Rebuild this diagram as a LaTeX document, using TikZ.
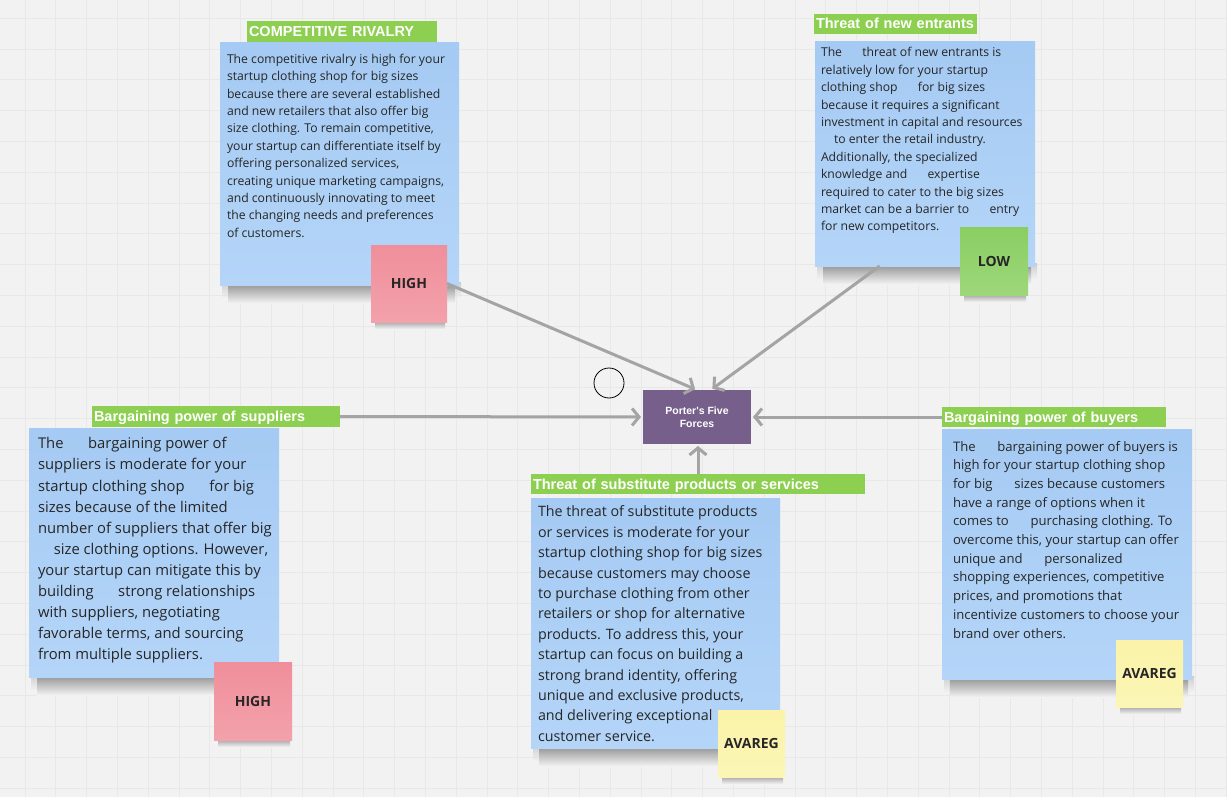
\documentclass[tikz,border=0pt]{standalone}
\usepackage{fontspec}
\setmainfont{Open Sans}
\newfontfamily\headfont{Liberation Sans}
\usetikzlibrary{arrows.meta}

\definecolor{boardbg}{HTML}{F2F2F2}
\definecolor{gridcol}{HTML}{E8E8E8}
\definecolor{notetop}{HTML}{A5CAF3}
\definecolor{notebot}{HTML}{B4D5F8}
\definecolor{headgreen}{HTML}{8DCF50}
\definecolor{pinktop}{HTML}{EF8F9B}
\definecolor{pinkbot}{HTML}{F3A1AB}
\definecolor{limetop}{HTML}{8ACE62}
\definecolor{limebot}{HTML}{9DD77A}
\definecolor{creamtop}{HTML}{FAF3A8}
\definecolor{creambot}{HTML}{FBF6B6}
\definecolor{porterpurple}{HTML}{765F8B}
\definecolor{linkgray}{HTML}{A4A4A4}
\definecolor{inkcol}{HTML}{262626}

\newcommand\wgap{\hspace*{1.4em}}
\newcommand\windent{\hspace*{1.07em}}

\pgfdeclarelayer{board}
\pgfdeclarelayer{shade}
\pgfsetlayers{board,shade,main}

\tikzset{
  note/.style={anchor=north west, inner sep=0pt, outer sep=0pt,
    top color=notetop, bottom color=notebot},
  notetext/.style={anchor=north west, inner sep=0pt, outer sep=0pt,
    align=left, text=inkcol},
  headbar/.style={anchor=north west, fill=headgreen, text=white,
    inner xsep=2pt, inner ysep=0pt, outer sep=0pt, align=left,
    font=\headfont\bfseries\fontsize{14.5}{16}\selectfont},
  rate/.style={anchor=north west, inner sep=0pt, outer sep=0pt,
    text=inkcol, font=\bfseries\fontsize{14}{16}\selectfont},
  link/.style={draw=linkgray, line width=3pt,
    -{Straight Barb[length=7pt,width=17pt]}, shorten >=2pt},
  gridline/.style={draw=gridcol, line width=0.8pt},
  noteshadow/.style={top color=black!45, bottom color=boardbg},
}

\begin{document}
\begin{tikzpicture}[x=1pt, y=-1pt]
  \useasboundingbox (0,0) rectangle (1227,797);

  \begin{pgfonlayer}{board}
    \fill[boardbg] (0,0) rectangle (1227,797);
    \foreach \gx in {0,...,40}
      \draw[gridline] ({-5.8+30.8*\gx},0) -- ({-5.8+30.8*\gx},797);
    \foreach \gy in {0,...,26}
      \draw[gridline] (0,{-12.6+30.8*\gy}) -- (1227,{-12.6+30.8*\gy});
  \end{pgfonlayer}

  %% competitive rivalry
  \node[headbar, text width=186] (rivalryhead) at (247,21)
    {\rule{0pt}{21pt}\raisebox{5.5pt}{COMPETITIVE RIVALRY}};
  \node[note, minimum width=239, minimum height=242] (rivalry) at (220,43) {};
  \node[notetext, font=\fontsize{12.2}{17.4}\selectfont] (rivalrytext) at (227,54)
    {The competitive rivalry is high for your\\
     startup clothing shop for big sizes\\
     because there are several established\\
     and new retailers that also offer big\\
     size clothing. To remain competitive,\\
     your startup can differentiate itself by\\
     offering personalized services,\\
     creating unique marketing campaigns,\\
     and continuously innovating to meet\\
     the changing needs and preferences\\
     of customers.};
  \node[rate, minimum width=76, minimum height=77, top color=pinktop, bottom color=pinkbot]
    (rivalryrate) at (371,245) {HIGH};

  %% threat of new entrants
  \node[headbar, text width=159] (entrantshead) at (814,14)
    {\rule{0pt}{20pt}\raisebox{5pt}{Threat of new entrants}};
  \node[note, minimum width=220, minimum height=224] (entrants) at (815,42) {};
  \node[notetext, font=\fontsize{12.2}{17.4}\selectfont] (entrantstext) at (821,47.5)
    {The \wgap threat of new entrants is\\
     relatively low for your startup\\
     clothing shop \wgap for big sizes\\
     because it requires a significant\\
     investment in capital and resources\\
     \windent to enter the retail industry.\\
     Additionally, the specialized\\
     knowledge and \wgap expertise\\
     required to cater to the big sizes\\
     market can be a barrier to \wgap entry\\
     for new competitors.};
  \node[rate, minimum width=68, minimum height=68, top color=limetop, bottom color=limebot]
    (entrantsrate) at (960,227) {LOW};

  %% bargaining power of suppliers
  \node[headbar, text width=244] (suppliershead) at (92,406)
    {\rule{0pt}{21pt}\raisebox{5.5pt}{Bargaining power of suppliers}};
  \node[note, minimum width=250, minimum height=249] (suppliers) at (29,428) {};
  \node[notetext, font=\fontsize{14.8}{21.1}\selectfont] (supplierstext) at (38,437.5)
    {The \wgap bargaining power of\\
     suppliers is moderate for your\\
     startup clothing shop \wgap for big\\
     sizes because of the limited\\
     number of suppliers that offer big\\
     \windent size clothing options. However,\\
     your startup can mitigate this by\\
     building \wgap strong relationships\\
     with suppliers, negotiating\\
     favorable terms, and sourcing\\
     from multiple suppliers.};
  \node[rate, minimum width=78, minimum height=78, top color=pinktop, bottom color=pinkbot]
    (suppliersrate) at (214,662) {HIGH};

  %% threat of substitutes
  \node[headbar, text width=330] (substitutehead) at (531,474)
    {\rule{0pt}{20pt}\raisebox{5pt}{Threat of substitute products or services}};
  \node[note, minimum width=249, minimum height=250] (substitute) at (531,498) {};
  \node[notetext, font=\fontsize{14.3}{20.4}\selectfont] (substitutetext) at (538,506)
    {The threat of substitute products\\
     or services is moderate for your\\
     startup clothing shop for big sizes\\
     because customers may choose\\
     to purchase clothing from other\\
     retailers or shop for alternative\\
     products. To address this, your\\
     startup can focus on building a\\
     strong brand identity, offering\\
     unique and exclusive products,\\
     and delivering exceptional\\
     customer service.};
  \node[rate, minimum width=67, minimum height=67, top color=creamtop, bottom color=creambot]
    (substituterate) at (718,710) {AVAREG};

  %% bargaining power of buyers
  \node[headbar, text width=220] (buyershead) at (942,407)
    {\rule{0pt}{20pt}\raisebox{5pt}{Bargaining power of buyers}};
  \node[note, minimum width=250, minimum height=250] (buyers) at (942,429) {};
  \node[notetext, font=\fontsize{13.1}{18.7}\selectfont] (buyerstext) at (953,441)
    {The \wgap bargaining power of buyers is\\
     high for your startup clothing shop\\
     for big \wgap sizes because customers\\
     have a range of options when it\\
     comes to \wgap purchasing clothing. To\\
     overcome this, your startup can offer\\
     unique and \wgap personalized\\
     shopping experiences, competitive\\
     prices, and promotions that\\
     incentivize customers to choose your\\
     brand over others.};
  \node[rate, minimum width=67, minimum height=67, top color=creamtop, bottom color=creambot]
    (buyersrate) at (1116,640) {AVAREG};

  %% centre
  \node[anchor=north west, fill=porterpurple, text=white, minimum width=108,
    minimum height=54, inner sep=0pt, outer sep=0pt, align=center,
    font=\headfont\bfseries\fontsize{10.5}{12.5}\selectfont]
    (porter) at (643,390) {Porter's Five\\Forces};
  \node[draw=black, line width=0.8pt, circle, minimum size=30, inner sep=0pt]
    (marker) at (609,383) {};

  %% shadows
  \begin{pgfonlayer}{shade}
    \foreach \n in {rivalry,entrants,suppliers,substitute,buyers}{
      \shade[noteshadow, opacity=0.35] ([shift={(2,-3)}]\n.south west) rectangle ([shift={(2,13)}]\n.south east);
      \shade[noteshadow] ([shift={(8,-3)}]\n.south west) rectangle ([shift={(-4,18)}]\n.south east);
    }
    \foreach \n in {rivalryrate,entrantsrate,suppliersrate,substituterate,buyersrate}
      \shade[noteshadow] ([shift={(4,-3)}]\n.south west) rectangle ([shift={(-2,7)}]\n.south east);
  \end{pgfonlayer}

  %% links
  \draw[link] (rivalryrate.east) -- (porter.north);
  \draw[link] (entrants.-112) -- (porter.63);
  \draw[link] (suppliershead.east) -- (porter.west);
  \draw[link] (buyershead.west) -- (porter.east);
  \draw[link] (substitutehead.north) -- (substitutehead.north |- porter.south);
\end{tikzpicture}
\end{document}
